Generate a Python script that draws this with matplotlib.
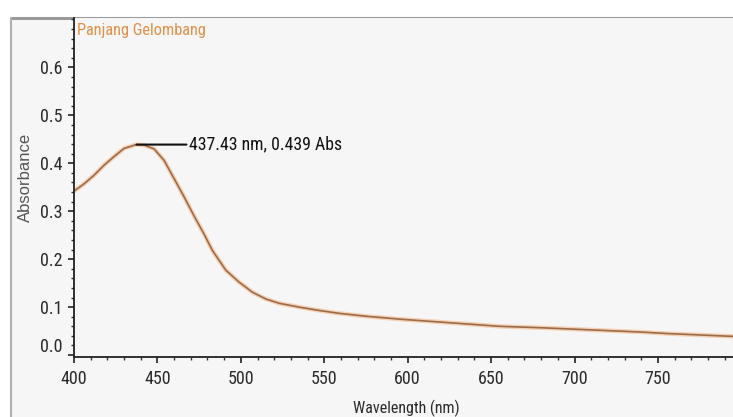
import matplotlib
matplotlib.use("Agg")
import matplotlib.pyplot as plt
from matplotlib import font_manager
from matplotlib.ticker import MultipleLocator, FixedLocator
from matplotlib.patches import Rectangle
from matplotlib.lines import Line2D
import matplotlib.transforms as mtransforms

wavelength = [400, 406, 412, 418, 424, 430, 437.43, 442, 448, 454, 460, 466, 472,
              478, 483, 491, 499, 507, 515, 523, 535, 547, 559, 575, 595, 615, 635,
              655, 680, 700, 720, 740, 755, 775, 795]
absorbance = [0.342, 0.357, 0.375, 0.396, 0.414, 0.431, 0.439, 0.438, 0.430, 0.406,
              0.368, 0.330, 0.290, 0.252, 0.218, 0.177, 0.152, 0.131, 0.117, 0.108,
              0.100, 0.093, 0.087, 0.081, 0.075, 0.070, 0.065, 0.060, 0.057, 0.054,
              0.051, 0.048, 0.045, 0.042, 0.039]
peak_wl = 437.43
peak_abs = 0.439
xticks = [400, 450, 500, 550, 600, 650, 700, 750]
yticks = [0.0, 0.1, 0.2, 0.3, 0.4, 0.5, 0.6]

# pick an upright, regular-weight narrow face if one is installed
def _is_regular(f):
    return f.style == 'normal' and f.weight in (400, 'normal', 'regular')

narrow_fp = None
for wanted in ('Liberation Sans Narrow', 'Roboto Condensed'):
    for f in font_manager.fontManager.ttflist:
        if f.name == wanted and _is_regular(f):
            narrow_fp = f.fname
            break
    if narrow_fp:
        break
if narrow_fp is None:
    for f in font_manager.fontManager.ttflist:
        if f.name == 'DejaVu Sans' and f.stretch in ('condensed', 'semi-condensed') and _is_regular(f):
            narrow_fp = f.fname
            break

def fp(size):
    if narrow_fp is not None:
        return font_manager.FontProperties(fname=narrow_fp, size=size)
    return font_manager.FontProperties(family=['Liberation Sans', 'DejaVu Sans'], size=size)

plt.rcParams['font.family'] = ['Liberation Sans', 'DejaVu Sans']

W, H = 733, 417
fig = plt.figure(figsize=(W / 100, H / 100), dpi=100)
fig.patch.set_facecolor('white')
# panel background and frame
fig.patches.append(Rectangle((11 / W, 0), 1 - 11 / W, 1 - 18 / H, transform=fig.transFigure,
                             facecolor='#f6f6f6', edgecolor='none', zorder=-10))
fig.lines.append(Line2D([11 / W, 1], [1 - 18 / H, 1 - 18 / H], transform=fig.transFigure,
                        color='#9a9a9a', lw=2.2, zorder=-5))
fig.lines.append(Line2D([11 / W, 11 / W], [0, 1 - 18 / H], transform=fig.transFigure,
                        color='#b0b0b0', lw=1.5, zorder=-5))

ax = fig.add_axes([74 / W, 1 - 357 / H, 1 - 74 / W, (357 - 18) / H])
ax.set_zorder(1)
ax.set_facecolor('#f6f6f6')
ax.plot(wavelength, absorbance, color='#f3b888', lw=3.2, alpha=0.6,
        solid_capstyle='round', solid_joinstyle='round')
ax.plot(wavelength, absorbance, color='#9c6c4a', lw=1.2, solid_joinstyle='round')

ax.set_xlim(400, 795)
ax.set_ylim(-0.004, 0.703)
for s in ['top', 'right']:
    ax.spines[s].set_visible(False)
for s in ['left', 'bottom']:
    ax.spines[s].set_color('#222222')
    ax.spines[s].set_linewidth(1.3)

ax.xaxis.set_major_locator(FixedLocator(xticks))
ax.xaxis.set_minor_locator(MultipleLocator(10))
ax.yaxis.set_major_locator(FixedLocator(yticks))
ax.yaxis.set_minor_locator(MultipleLocator(0.02))
ax.set_xticklabels([str(v) for v in xticks])
ax.set_yticklabels([f"{v:.1f}" for v in yticks])
ax.tick_params(which='major', direction='out', length=4, width=1.2, color='#222222',
               labelcolor='#2a2a2a')
ax.tick_params(which='minor', direction='out', length=2, width=1, color='#333333')
ax.tick_params(axis='y', pad=4)
ax.tick_params(axis='x', pad=5)
for lab in ax.get_xticklabels() + ax.get_yticklabels():
    lab.set_fontproperties(fp(13))
# lift the 0.0 label a bit as in the reference
lab0 = ax.get_yticklabels()[0]
lab0.set_transform(lab0.get_transform() + mtransforms.ScaledTranslation(0, 10 / 100, fig.dpi_scale_trans))

ax.set_xlabel('Wavelength (nm)', color='#2a2a2a', fontproperties=fp(11.5))
ax.xaxis.set_label_coords(0.505, -0.126)
ax.set_ylabel('Absorbance', color='#555555', family=['Liberation Sans', 'DejaVu Sans'],
              fontsize=12)
ax.yaxis.set_label_coords(-0.062, 0.531)

ax.text(0.005, 0.985, 'Panjang Gelombang', transform=ax.transAxes, ha='left', va='top',
        fontproperties=fp(11.8), color='#e0904a')

ax.annotate('437.43 nm, 0.439 Abs', xy=(peak_wl, peak_abs), xytext=(38, 0),
            textcoords='offset points', ha='left', va='center',
            fontproperties=fp(12.8), color='#111111',
            arrowprops=dict(arrowstyle='-', color='#111111', lw=1.5, shrinkA=0, shrinkB=0))

fig.savefig('out.png', dpi=100)
